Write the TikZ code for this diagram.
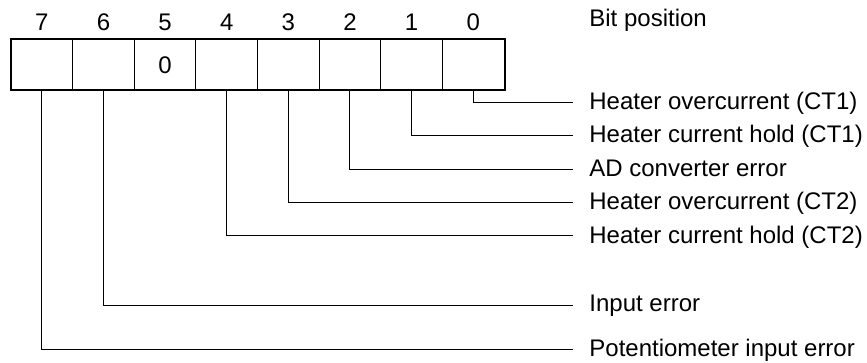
\documentclass[tikz,border=0pt]{standalone}
\usepackage{fontspec}
\setmainfont{Liberation Sans}
\usetikzlibrary{positioning}
\tikzset{%
	cell/.style   = {draw, line width=0.5pt, rectangle, minimum width=30.81pt, minimum height=25pt, inner sep=0pt, font=\fontsize{12}{14}\selectfont}, % Bit cell
	bitnum/.style = {inner sep=0pt, font=\fontsize{12}{14}\selectfont}, % Bit number
	flag/.style   = {anchor=west, inner xsep=8pt, inner ysep=0pt, text height=8pt, text depth=1pt, font=\fontsize{12}{14}\selectfont}, % Label
	lead/.style   = {line width=0.5pt},
}

\begin{document}
\begin{tikzpicture}[x=0.5pt,y=-0.5pt]
		\useasboundingbox (0,0) rectangle (867,363);
		\foreach \b/\t in {7/,6/,5/0,4/,3/,2/,1/,0/}
			\node [cell] (c\b) at ({41.81+61.625*(7-\b)},65) {\t};
		\draw[line width=1pt] (c7.north west) rectangle (c0.south east);
		
		\foreach \b in {0,...,7}
			\node [bitnum,above=4.25pt of c\b] (n\b) {\b};
		\node [flag] (pos) at (573,20) {Bit position};
		
		\foreach \b/\y/\t in {0/102.7/{Heater overcurrent (CT1)},1/136/{Heater current hold (CT1)},2/169.3/{AD converter error},3/202.7/{Heater overcurrent (CT2)},4/236/{Heater current hold (CT2)},6/305/{Input error},7/349/{Potentiometer input error}}
		{
			\node [flag] (l\b) at (573,\y) {\t};
			\draw[lead] (c\b.south) |- (l\b.west);
		}
\end{tikzpicture}
\end{document}
